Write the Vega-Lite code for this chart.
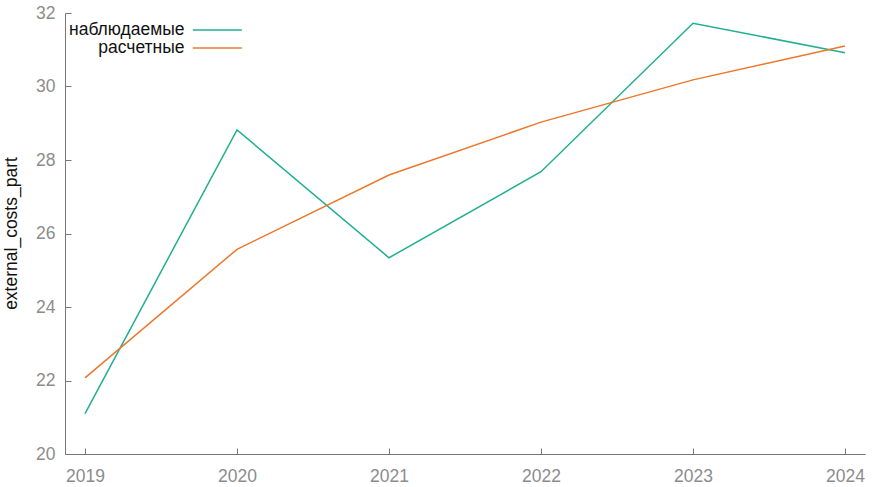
{
  "$schema": "https://vega.github.io/schema/vega-lite/v6.json",
  "width": 800,
  "height": 441,
  "autosize": {"type": "none"},
  "padding": {"left": 65, "top": 13, "right": 22, "bottom": 33},
  "background": "white",
  "config": {
    "view": {"stroke": null},
    "font": "Liberation Sans",
    "axis": {
      "grid": false,
      "domainColor": "#777777",
      "tickColor": "#777777",
      "tickSize": -6,
      "labelColor": "#8c8c8c",
      "labelFontSize": 17.5,
      "labelFont": "Liberation Sans",
      "titleFont": "Liberation Sans",
      "titleFontWeight": "normal",
      "titleFontSize": 17.5,
      "titleColor": "#111111"
    }
  },
  "data": {
    "values": [
      {"year": 2019, "series": "наблюдаемые", "value": 21.1},
      {"year": 2020, "series": "наблюдаемые", "value": 28.82},
      {"year": 2021, "series": "наблюдаемые", "value": 25.34},
      {"year": 2022, "series": "наблюдаемые", "value": 27.68},
      {"year": 2023, "series": "наблюдаемые", "value": 31.72},
      {"year": 2024, "series": "наблюдаемые", "value": 30.92},
      {"year": 2019, "series": "расчетные", "value": 22.07},
      {"year": 2020, "series": "расчетные", "value": 25.57},
      {"year": 2021, "series": "расчетные", "value": 27.59},
      {"year": 2022, "series": "расчетные", "value": 29.03},
      {"year": 2023, "series": "расчетные", "value": 30.18},
      {"year": 2024, "series": "расчетные", "value": 31.1}
    ]
  },
  "mark": {"type": "line", "strokeWidth": 1.5},
  "encoding": {
    "x": {
      "field": "year",
      "type": "quantitative",
      "scale": {"domain": [2018.8684, 2024.1316], "nice": false, "zero": false},
      "axis": {"title": null, "values": [2019, 2020, 2021, 2022, 2023, 2024], "format": "d", "labelPadding": 19, "labelFlush": false}
    },
    "y": {
      "field": "value",
      "type": "quantitative",
      "scale": {"domain": [20, 32], "nice": false, "zero": false},
      "axis": {
        "title": "external_costs_part",
        "values": [20, 22, 24, 26, 28, 30, 32],
        "labelPadding": 16,
        "titleX": -54,
        "titleY": 220,
        "titleAngle": -90,
        "titleAlign": "center",
        "titleBaseline": "middle"
      }
    },
    "color": {
      "field": "series",
      "type": "nominal",
      "scale": {"domain": ["наблюдаемые", "расчетные"], "range": ["#1fb08f", "#ec772a"]},
      "legend": {
        "title": null,
        "orient": "none",
        "legendX": 143.3,
        "legendY": 8,
        "padding": 0,
        "symbolType": "M-3,0L3,0",
        "symbolSize": 267,
        "symbolStrokeWidth": 1.5,
        "labelAlign": "right",
        "labelOffset": -41.7,
        "labelFontSize": 17.5,
        "labelFont": "Liberation Sans",
        "labelColor": "#111111",
        "rowPadding": 0
      }
    }
  }
}
